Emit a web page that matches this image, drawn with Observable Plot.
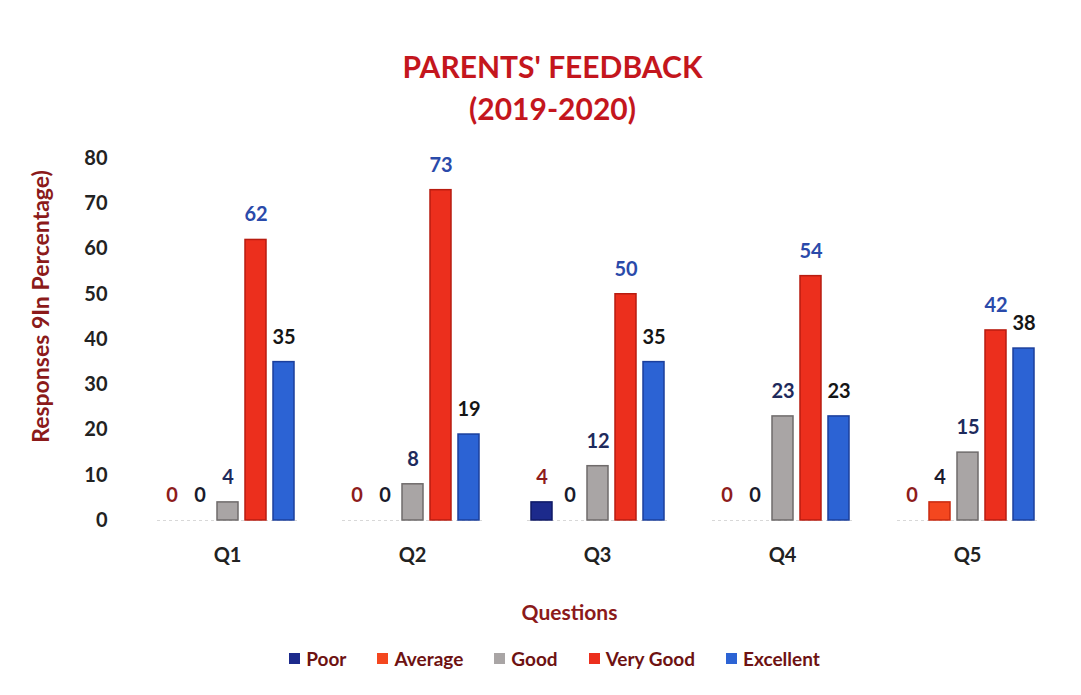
<!DOCTYPE html>
<html>
<head>
<meta charset="utf-8">
<script src="https://cdn.jsdelivr.net/npm/d3@7"></script>
<script src="https://cdn.jsdelivr.net/npm/@observablehq/plot@0.6"></script>
<style>
  html, body { margin: 0; padding: 0; background: #fff; }
  body { width: 1081px; height: 695px; overflow: hidden; font-family: Lato, "Open Sans", sans-serif; }
  #title { height: 130px; box-sizing: border-box; padding-top: 45px; text-align: center; color: #c4161d;
           font-weight: bold; font-size: 30px; line-height: 42px; padding-left: 24px; }
  #legend { display: flex; justify-content: center; gap: 31px; margin-top: 12px; padding-left: 28px;
            font-size: 19px; font-weight: bold; color: #6e1212; }
  #legend span.item { display: inline-flex; align-items: center; }
  #legend span.sw { display: inline-block; width: 11px; height: 11px; margin-right: 6px; }
</style>
</head>
<body>
<div id="title">PARENTS' FEEDBACK<br>(2019-2020)</div>
<div id="chart"></div>
<div id="legend"></div>
<script>
const questions = ["Q1", "Q2", "Q3", "Q4", "Q5"];
const categories = ["Poor", "Average", "Good", "Very Good", "Excellent"];
const poor = [0, 0, 4, 0, 0];
const average = [0, 0, 0, 0, 4];
const good = [4, 8, 12, 23, 15];
const veryGood = [62, 73, 50, 54, 42];
const excellent = [35, 19, 35, 23, 38];
const yTicks = [0, 10, 20, 30, 40, 50, 60, 70, 80];
const yLabel = "Responses 9In Percentage)";
const xLabel = "Questions";

const fills = {"Poor": "#1c2a8c", "Average": "#f4471f", "Good": "#a9a5a5", "Very Good": "#ec2f1d", "Excellent": "#2c63d4"};
const strokes = {"Poor": "#0f1a66", "Average": "#c92a10", "Good": "#6f6b6b", "Very Good": "#b81c10", "Excellent": "#1b3f9c"};
const labelColors = {"Poor": "#8e1c1c", "Average": "#1a1a2c", "Good": "#1e2a5c", "Very Good": "#2a4aaa", "Excellent": "#151515"};

const series = {"Poor": poor, "Average": average, "Good": good, "Very Good": veryGood, "Excellent": excellent};
const data = [];
questions.forEach((q, i) => categories.forEach(c => data.push({question: q, category: c, value: series[c][i]})));

const marks = [
  Plot.ruleY([0], {stroke: "#d8d8d8", strokeDasharray: "3,3"})
];
for (const c of categories) {
  const sub = data.filter(d => d.category === c);
  marks.push(Plot.barY(sub, {fx: "question", x: "category", y: "value", fill: fills[c], stroke: strokes[c], strokeWidth: 1.5}));
  marks.push(Plot.text(sub, {fx: "question", x: "category", y: "value", text: d => String(d.value), dy: -25,
    fill: labelColors[c], fontSize: 20, fontWeight: "bold"}));
}
marks.push(Plot.text([yLabel], {fx: () => "Q1", frameAnchor: "left", textAnchor: "middle", dx: -116, dy: -33, rotate: -90,
  fill: "#8b1a1a", fontSize: 23, fontWeight: "bold"}));
marks.push(Plot.text([xLabel], {fx: () => "Q3", frameAnchor: "bottom", textAnchor: "middle", dx: -28, dy: 99,
  fill: "#8b1a1a", fontSize: 21, fontWeight: "bold"}));

const chart = Plot.plot({
  width: 1081,
  height: 505,
  marginTop: 28,
  marginBottom: 115,
  marginLeft: 133,
  marginRight: 20,
  style: {fontFamily: "Lato, 'Open Sans', sans-serif", fontWeight: "bold", fontSize: "20px", color: "#222", background: "white"},
  y: {domain: [0, 80], ticks: yTicks, tickSize: 0, tickPadding: 50, label: null},
  fx: {domain: questions, paddingInner: 0.245, paddingOuter: 0.1225, label: null, axis: "bottom", tickSize: 0, tickPadding: 27},
  x: {domain: categories, paddingInner: 0.25, paddingOuter: 0.1, axis: null},
  marks
});
document.getElementById("chart").appendChild(chart);

const legend = document.getElementById("legend");
for (const c of categories) {
  const item = document.createElement("span");
  item.className = "item";
  const sw = document.createElement("span");
  sw.className = "sw";
  sw.style.background = fills[c];
  item.appendChild(sw);
  item.appendChild(document.createTextNode(c));
  legend.appendChild(item);
}
</script>
</body>
</html>
